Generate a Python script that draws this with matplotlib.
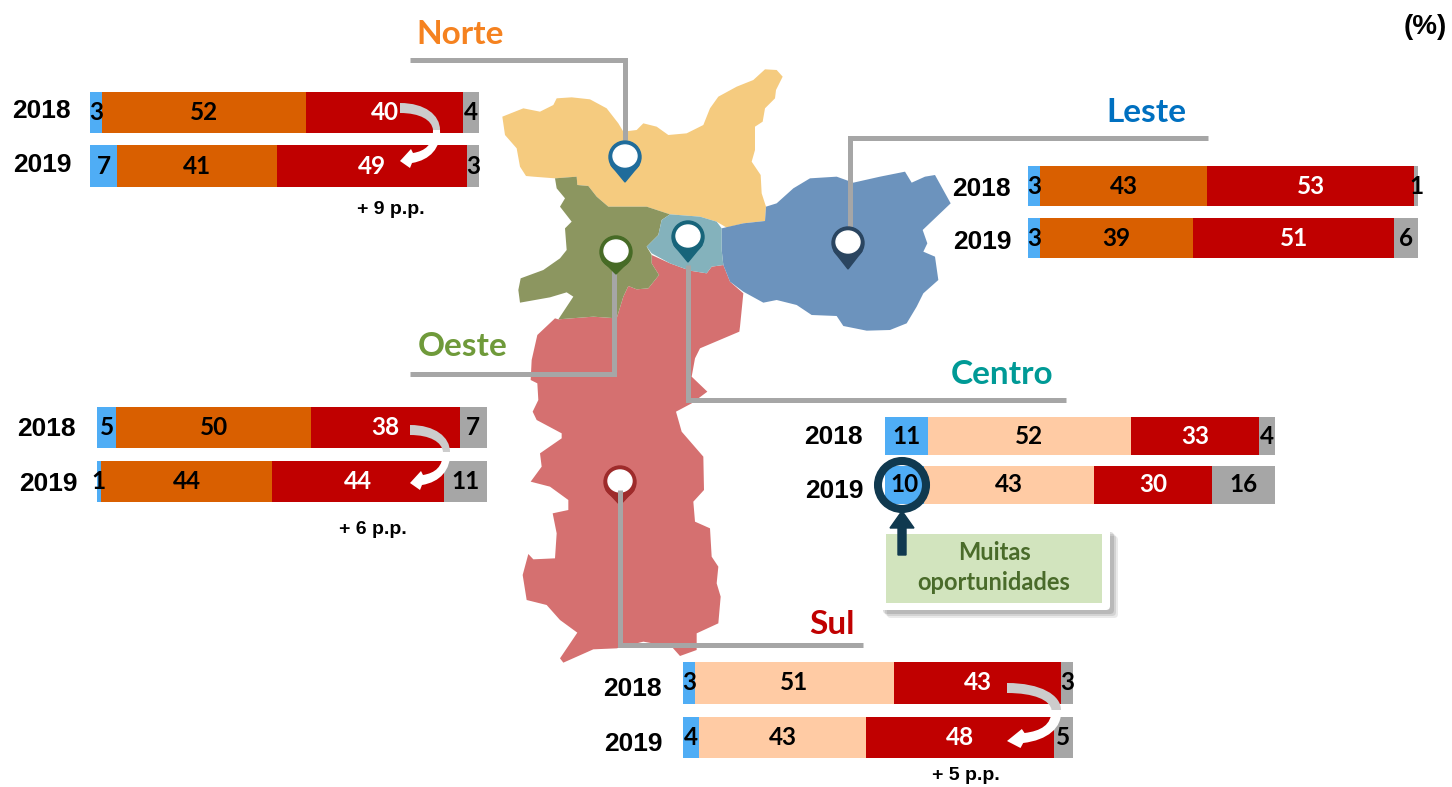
import matplotlib
matplotlib.use('Agg')
import matplotlib.pyplot as plt
import matplotlib.patches as mpatches
from matplotlib.path import Path

W, H = 1452, 787

# % per answer: 2018 row, 2019 row
years = ['2018', '2019']
norte = [[3, 52, 40, 4], [7, 41, 49, 3]]
leste = [[3, 43, 53, 1], [3, 39, 51, 6]]
oeste = [[5, 50, 38, 7], [1, 44, 44, 11]]
centro = [[11, 52, 33, 4], [10, 43, 30, 16]]
sul = [[3, 51, 43, 3], [4, 43, 48, 5]]

BLUE = '#4FADF5'
ORANGE = '#D95F00'
PEACH = '#FFCBA4'
RED = '#C00000'
GRAY = '#A6A6A6'

LABEL_FONT = 'Lato'
ARIAL = 'Liberation Sans'

fig = plt.figure(figsize=(W / 100, H / 100), dpi=100)


def row_axes(x0, x1, y0, y1):
    ax = fig.add_axes([x0 / W, 1 - y1 / H, (x1 - x0) / W, (y1 - y0) / H], zorder=1)
    ax.axis('off')
    return ax


def draw_row(x0, x1, y0, y1, values, mid_color):
    ax = row_axes(x0, x1, y0, y1)
    colors = [BLUE, mid_color, RED, GRAY]
    left = 0
    for i, v in enumerate(values):
        bars = ax.barh(0, v, left=left, height=1, color=colors[i])
        ax.bar_label(bars, labels=[str(v)], label_type='center', family=LABEL_FONT,
                     fontweight='bold', fontsize=17.5,
                     color='white' if colors[i] == RED else 'black')
        left += v
    ax.set_xlim(0, sum(values))
    ax.set_ylim(-0.5, 0.5)


# x0, x1, then the top and bottom of each row in pixels
draw_row(90, 479, 92, 133, norte[0], ORANGE)
draw_row(90, 479, 145, 187, norte[1], ORANGE)
draw_row(1028, 1418, 166, 206, leste[0], ORANGE)
draw_row(1028, 1418, 218, 258, leste[1], ORANGE)
draw_row(97, 487, 407, 448, oeste[0], ORANGE)
draw_row(97, 487, 461, 502, oeste[1], ORANGE)
draw_row(885, 1275, 417, 455, centro[0], PEACH)
draw_row(885, 1275, 466, 504, centro[1], PEACH)
draw_row(683, 1073, 662, 704, sul[0], PEACH)
draw_row(683, 1073, 717, 758, sul[1], PEACH)

# overlay in image pixels for the map and the annotations
ov = fig.add_axes([0, 0, 1, 1], zorder=2)
ov.set_xlim(0, W)
ov.set_ylim(H, 0)
ov.axis('off')
ov.patch.set_alpha(0)


def top_crop(pts):
    return [(490 + x / 3, 60 + y / 3) for x, y in pts]


def low_crop(pts):
    return [(500 + x / 3, 300 + y / 3) for x, y in pts]


norte_shape = top_crop([(37, 170), (100, 145), (150, 155), (190, 135), (200, 115), (245, 112), (300, 118),
                        (350, 145), (385, 190), (400, 215), (440, 210), (460, 190), (500, 200), (535, 225),
                        (590, 220), (640, 195), (660, 145), (685, 110), (740, 80), (790, 60), (825, 28),
                        (860, 30), (878, 50), (858, 90), (855, 115), (825, 145), (818, 185), (795, 200),
                        (795, 270), (785, 305), (812, 345), (815, 400), (828, 440), (825, 483), (760, 490),
                        (710, 503), (680, 485), (630, 470), (540, 463), (470, 440), (355, 440), (320, 410),
                        (295, 378), (262, 375), (260, 350), (195, 355), (130, 350), (108, 348), (90, 320),
                        (80, 265), (45, 225)])
oeste_shape = top_crop([(195, 355), (260, 350), (262, 375), (295, 378), (320, 410), (355, 440), (470, 440),
                        (540, 463), (515, 480), (505, 525), (470, 560), (485, 585), (485, 610), (507, 645),
                        (475, 685), (440, 688), (415, 678), (400, 710), (380, 775), (310, 770), (205, 778),
                        (250, 710), (230, 697), (180, 712), (90, 728), (85, 690), (92, 655), (160, 630),
                        (210, 595), (230, 570), (225, 505), (245, 485), (210, 440), (225, 415), (200, 385)])
centro_shape = top_crop([(540, 463), (630, 470), (680, 485), (695, 505), (695, 570), (700, 615), (665, 620),
                         (650, 640), (600, 632), (540, 610), (485, 580), (470, 560), (505, 525), (515, 480)])
leste_shape = top_crop([(695, 505), (760, 490), (825, 483), (828, 440), (860, 430), (910, 385), (960, 355),
                        (1040, 350), (1090, 368), (1170, 350), (1245, 335), (1265, 368), (1305, 350),
                        (1335, 345), (1382, 430), (1340, 470), (1298, 510), (1312, 550), (1300, 575),
                        (1335, 590), (1345, 660), (1300, 700), (1280, 740), (1250, 790), (1200, 810),
                        (1130, 812), (1060, 798), (1040, 768), (965, 765), (920, 735), (860, 720), (820, 728),
                        (760, 695), (720, 665), (700, 615), (695, 570)])
sul_shape = top_crop([(700, 615), (720, 665), (760, 700), (750, 800)]) + \
    low_crop([(718, 95), (600, 145), (585, 175), (575, 230), (622, 275), (575, 310), (528, 335), (545, 395),
              (610, 470), (612, 570), (580, 605), (585, 665), (630, 685), (635, 770), (655, 800), (650, 850),
              (662, 890), (655, 970), (590, 1000), (590, 1050), (540, 1068), (515, 1040), (430, 1025),
              (350, 1045), (280, 1048), (190, 1088), (180, 1075), (232, 998), (180, 960), (140, 915), (80, 900),
              (68, 825), (85, 762), (100, 778), (165, 775), (170, 700), (158, 640), (205, 630), (205, 600),
              (150, 560), (92, 545), (125, 500), (120, 460), (185, 415), (185, 400), (110, 360), (98, 335),
              (115, 300), (112, 250), (92, 240), (95, 180), (112, 105), (165, 55)]) + \
    top_crop([(205, 778), (310, 770), (380, 775), (400, 710), (415, 678), (440, 688), (475, 685), (507, 645),
              (485, 610), (485, 585), (540, 610), (600, 632), (650, 640), (665, 620)])

for shape, color in [(sul_shape, '#D57070'), (norte_shape, '#F5CB7F'), (oeste_shape, '#8C9660'),
                     (leste_shape, '#6C93BD'), (centro_shape, '#84B2BC')]:
    ov.add_patch(mpatches.Polygon(shape, closed=True, facecolor=color, edgecolor='none', zorder=2))


def connector(xs, ys, z=3):
    ov.plot(xs, ys, color=GRAY, lw=3.6, solid_joinstyle='miter', solid_capstyle='butt', zorder=z)


def pin(cx, cy, tip, color):
    ov.add_patch(mpatches.Polygon([(cx - 14, cy + 8), (cx, tip), (cx + 14, cy + 8)], color=color, zorder=4))
    ov.add_patch(mpatches.Circle((cx, cy), 16, color=color, zorder=4))
    ov.add_patch(mpatches.Ellipse((cx, cy - 1), 24, 22, color='white', zorder=5))


connector([410, 625, 625], [60, 60, 140])
connector([1208, 850, 850], [138, 138, 228])
connector([410, 614, 614], [374, 374, 270])
connector([1066, 688, 688], [400, 400, 265])
pin(625, 157, 182, '#1F6C9B')
pin(848, 243, 269, '#2A4560')
pin(616, 252, 274, '#476B26')
pin(688, 237, 262, '#17647A')
pin(620, 482, 505, '#9E2B2B')
connector([863, 620, 620], [645, 645, 490], z=6)


def curved_arrow(dx, dy, sx=1.0):
    def p(x, y):
        return (dx + 400 + (x - 400) * sx, dy + y)
    c4, l2, m = Path.CURVE4, Path.LINETO, Path.MOVETO
    grey = [p(400, 103), p(425, 103), p(440, 115), p(440, 130), p(433, 130),
            p(432, 120), p(420, 113), p(400, 113), p(400, 103)]
    ov.add_patch(mpatches.PathPatch(Path(grey, [m, c4, c4, c4, l2, c4, c4, c4, Path.CLOSEPOLY]),
                                    facecolor='#CCCCCC', edgecolor='none', zorder=7))
    white = [p(440, 130), p(441, 148), p(430, 160), p(412, 163), p(410, 168), p(400, 161), p(411, 149),
             p(413, 153), p(425, 151), p(433, 145), p(433, 130), p(440, 130)]
    ov.add_patch(mpatches.PathPatch(Path(white, [m, c4, c4, c4, l2, l2, l2, l2, c4, c4, c4, Path.CLOSEPOLY]),
                                    facecolor='white', edgecolor='none', zorder=7))


curved_arrow(0, 0)
curved_arrow(10, 322)
curved_arrow(607, 580, sx=1.35)

# region titles
for txt, x, y, color in [('Norte', 460, 34, '#F58220'), ('Leste', 1146, 113, '#0070C0'),
                         ('Oeste', 463, 347, '#6F9A3A'), ('Centro', 1002, 375, '#009A96'),
                         ('Sul', 832, 624, '#C00000')]:
    ov.text(x, y, txt, family=LABEL_FONT, fontweight='bold', fontsize=24, color=color,
            ha='center', va='center')

# year labels
for xa, ya, xb, yb in [(41, 111, 42, 165), (981, 189, 982, 242), (46, 429, 48, 484),
                       (833, 437, 834, 491), (632, 689, 633, 744)]:
    ov.text(xa, ya, years[0], family=ARIAL, fontweight='bold', fontsize=19, ha='center', va='center')
    ov.text(xb, yb, years[1], family=ARIAL, fontweight='bold', fontsize=19, ha='center', va='center')

for txt, x, y in [('+ 9 p.p.', 391, 210), ('+ 6 p.p.', 373, 529), ('+ 5 p.p.', 966, 776)]:
    ov.text(x, y, txt, family=ARIAL, fontweight='bold', fontsize=14, ha='center', va='center')

ov.text(1425, 27, '(%)', family=ARIAL, fontweight='bold', fontsize=20, ha='center', va='center')

# "Muitas oportunidades" callout
for off, a in [(8, 0.12), (6, 0.15), (4, 0.2)]:
    ov.add_patch(mpatches.FancyBboxPatch((879 + off, 528 + off), 231, 82, boxstyle='round,pad=0,rounding_size=4',
                                         facecolor='#555555', edgecolor='none', alpha=a, zorder=7))
ov.add_patch(mpatches.FancyBboxPatch((879, 528), 231, 82, boxstyle='round,pad=0,rounding_size=4',
                                     facecolor='white', edgecolor='none', zorder=8))
ov.add_patch(mpatches.Rectangle((886, 534), 216, 69, facecolor='#D2E4BE', edgecolor='none', zorder=9))
ov.text(994, 553, 'Muitas', family=LABEL_FONT, fontweight='bold', fontsize=17, color='#4A6B2A',
        ha='center', va='center', zorder=10)
ov.text(994, 582, 'oportunidades', family=LABEL_FONT, fontweight='bold', fontsize=17, color='#4A6B2A',
        ha='center', va='center', zorder=10)
ov.add_patch(mpatches.Circle((902, 485), 24, facecolor='none', edgecolor='#10394F', lw=5.8, zorder=11))
ov.add_patch(mpatches.FancyArrow(902, 555, 0, -44, width=8, head_width=24, head_length=17,
                                 length_includes_head=True, color='#10394F', zorder=11))

fig.savefig('out.png', dpi=100)
